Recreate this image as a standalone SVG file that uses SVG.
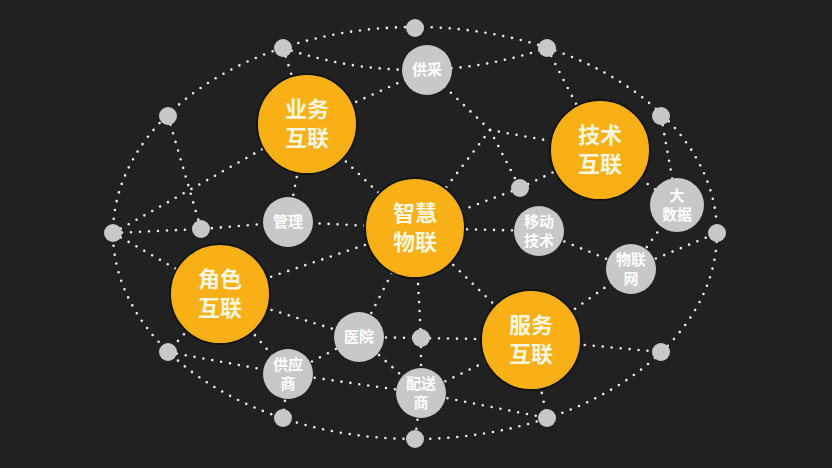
<svg xmlns="http://www.w3.org/2000/svg" width="832" height="468" viewBox="0 0 832 468">
<style>
.bg{fill:#212121}
.dl{fill:none;stroke:#ececec;stroke-width:2.6;stroke-dasharray:0 9;stroke-linecap:round}
.big{fill:#f8b016;stroke:#151515;stroke-width:2}
.mid{fill:#c8c8c8}
.dot{fill:#c8c8c8}
.tb{font-family:"Noto Sans CJK SC","Noto Sans",sans-serif;font-weight:700;font-size:22px;fill:#fff6e0;text-anchor:middle}
.ts{font-family:"Noto Sans CJK SC","Noto Sans",sans-serif;font-weight:700;font-size:15px;fill:#ffffff;text-anchor:middle}
</style>
<rect class="bg" x="0" y="0" width="832" height="468"/>
<g id="connectors">
<ellipse class="dl" cx="415" cy="233" rx="302" ry="206"/>
<path class="dl" d="M283,48 Q415,92 547,48"/>
<path class="dl" d="M168,116 L201,229"/>
<path class="dl" d="M113,233 L307,124"/>
<path class="dl" d="M283,48 L307,124"/>
<path class="dl" d="M307,124 L288,222"/>
<path class="dl" d="M307,124 L415,228"/>
<path class="dl" d="M307,124 L427,70"/>
<path class="dl" d="M113,233 L201,229 L288,222 L415,228"/>
<path class="dl" d="M113,233 L220,294"/>
<path class="dl" d="M220,294 L415,228"/>
<path class="dl" d="M220,294 L359,337"/>
<path class="dl" d="M220,294 L288,374"/>
<path class="dl" d="M220,294 L168,352"/>
<path class="dl" d="M168,352 L288,374"/>
<path class="dl" d="M288,374 L359,337"/>
<path class="dl" d="M288,374 L421,393"/>
<path class="dl" d="M288,374 L283,418"/>
<path class="dl" d="M359,337 L421,338"/>
<path class="dl" d="M359,337 L415,228"/>
<path class="dl" d="M359,337 L421,393"/>
<path class="dl" d="M421,338 L415,228"/>
<path class="dl" d="M421,338 L531,340"/>
<path class="dl" d="M421,338 L421,393"/>
<path class="dl" d="M421,393 L531,340"/>
<path class="dl" d="M421,393 L547,418"/>
<path class="dl" d="M421,393 L415,439"/>
<path class="dl" d="M531,340 L415,228"/>
<path class="dl" d="M531,340 L547,418"/>
<path class="dl" d="M531,340 L661,352"/>
<path class="dl" d="M531,340 L631,269"/>
<path class="dl" d="M631,269 L539,231"/>
<path class="dl" d="M631,269 L677,205"/>
<path class="dl" d="M631,269 L717,233"/>
<path class="dl" d="M677,205 L661,116"/>
<path class="dl" d="M677,205 L600,150"/>
<path class="dl" d="M539,231 L415,228"/>
<path class="dl" d="M520,188 L415,228"/>
<path class="dl" d="M520,188 L600,150"/>
<path class="dl" d="M490,130 L427,70"/>
<path class="dl" d="M490,130 L600,150"/>
<path class="dl" d="M490,130 L415,228"/>
<path class="dl" d="M490,130 L520,188"/>
<path class="dl" d="M547,48 L600,150"/>
</g>
<g id="dots">
<circle class="dot" cx="283" cy="48" r="9"/>
<circle class="dot" cx="415" cy="28" r="9"/>
<circle class="dot" cx="547" cy="48" r="9"/>
<circle class="dot" cx="168" cy="116" r="9"/>
<circle class="dot" cx="661" cy="116" r="9"/>
<circle class="dot" cx="113" cy="233" r="9"/>
<circle class="dot" cx="201" cy="229" r="9"/>
<circle class="dot" cx="520" cy="188" r="9"/>
<circle class="dot" cx="717" cy="233" r="9"/>
<circle class="dot" cx="168" cy="352" r="9"/>
<circle class="dot" cx="421" cy="338" r="9"/>
<circle class="dot" cx="661" cy="352" r="9"/>
<circle class="dot" cx="283" cy="418" r="9"/>
<circle class="dot" cx="547" cy="418" r="9"/>
<circle class="dot" cx="415" cy="439" r="9"/>
</g>
<g id="n-yewu"><circle class="big" cx="307" cy="124" r="50"/><text class="tb" x="307" y="117">业务<tspan x="307" dy="29">互联</tspan></text></g>
<g id="n-jishu"><circle class="big" cx="600" cy="150" r="50"/><text class="tb" x="600" y="143">技术<tspan x="600" dy="29">互联</tspan></text></g>
<g id="n-zhihui"><circle class="big" cx="415" cy="228" r="50"/><text class="tb" x="415" y="221">智慧<tspan x="415" dy="29">物联</tspan></text></g>
<g id="n-jiaose"><circle class="big" cx="220" cy="294" r="50"/><text class="tb" x="220" y="287">角色<tspan x="220" dy="29">互联</tspan></text></g>
<g id="n-fuwu"><circle class="big" cx="531" cy="340" r="50"/><text class="tb" x="531" y="333">服务<tspan x="531" dy="29">互联</tspan></text></g>
<g id="n-gongcai"><circle class="mid" cx="427" cy="70" r="25"/><text class="ts" x="427" y="75">供采</text></g>
<g id="n-guanli"><circle class="mid" cx="288" cy="222" r="25"/><text class="ts" x="288" y="227">管理</text></g>
<g id="n-yidong"><circle class="mid" cx="539" cy="231" r="25"/><text class="ts" x="539" y="227">移动<tspan x="539" dy="19">技术</tspan></text></g>
<g id="n-dashuju"><circle class="mid" cx="677" cy="205" r="27"/><text class="ts" x="677" y="201">大<tspan x="677" dy="19">数据</tspan></text></g>
<g id="n-wulianwang"><circle class="mid" cx="631" cy="269" r="25"/><text class="ts" x="631" y="265">物联<tspan x="631" dy="19">网</tspan></text></g>
<g id="n-yiyuan"><circle class="mid" cx="359" cy="337" r="25"/><text class="ts" x="359" y="342">医院</text></g>
<g id="n-gongying"><circle class="mid" cx="288" cy="374" r="25"/><text class="ts" x="288" y="370">供应<tspan x="288" dy="19">商</tspan></text></g>
<g id="n-peisong"><circle class="mid" cx="421" cy="393" r="25"/><text class="ts" x="421" y="389">配送<tspan x="421" dy="19">商</tspan></text></g>
</svg>
